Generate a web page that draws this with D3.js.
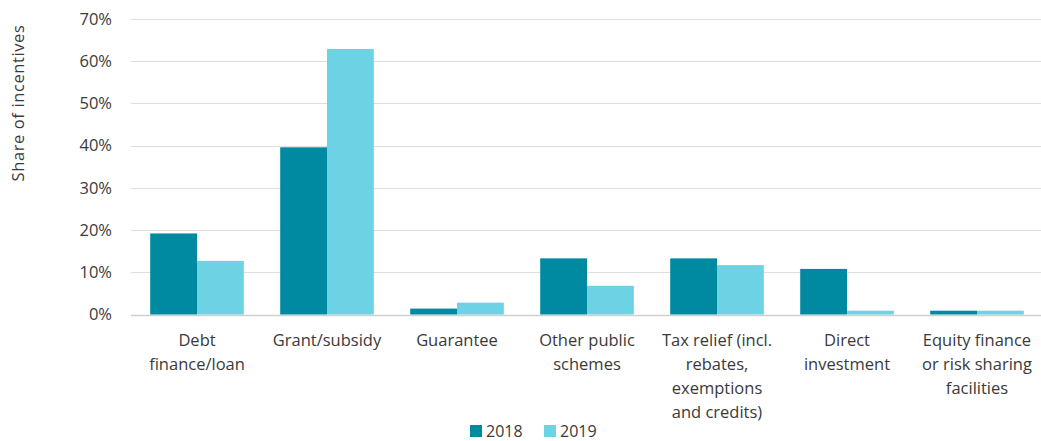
<!DOCTYPE html>
<html>
<head>
<meta charset="utf-8">
<script src="https://cdn.jsdelivr.net/npm/d3@7"></script>
<style>
  html, body { margin: 0; padding: 0; background: #fff; }
  svg { display: block; }
  text { font-family: "Open Sans", "Noto Sans", sans-serif; fill: #3a3a3a; }
</style>
</head>
<body>
<svg id="chart" width="1041" height="441"></svg>
<script>
// Incentive types (x categories), with the line breaks used under the axis
const categories = [
  "Debt finance/loan",
  "Grant/subsidy",
  "Guarantee",
  "Other public schemes",
  "Tax relief (incl. rebates, exemptions and credits)",
  "Direct investment",
  "Equity finance or risk sharing facilities"
];
const categoryLines = [
  ["Debt", "finance/loan"],
  ["Grant/subsidy"],
  ["Guarantee"],
  ["Other public", "schemes"],
  ["Tax relief (incl.", "rebates,", "exemptions", "and credits)"],
  ["Direct", "investment"],
  ["Equity finance", "or risk sharing", "facilities"]
];

// Share of incentives per year
const seriesNames = ["2018", "2019"];
const values2018 = [0.192, 0.396, 0.014, 0.133, 0.133, 0.108, 0.009];
const values2019 = [0.127, 0.629, 0.028, 0.068, 0.117, 0.009, 0.009];

const yTicks = [0, 0.1, 0.2, 0.3, 0.4, 0.5, 0.6, 0.7];
const yTitle = "Share of incentives";

const colors = { "2018": "#008aa2", "2019": "#6dd2e4" };
const fontSize = 16.5;

const svg = d3.select("#chart");

const x = d3.scaleBand()
  .domain(categories)
  .range([132, 1042])
  .paddingInner(0.28)
  .paddingOuter(0.14);

const x1 = d3.scaleBand()
  .domain(seriesNames)
  .range([0, x.bandwidth()]);

const y = d3.scaleLinear()
  .domain([0, 0.7])
  .range([314.5, 19]);

// Horizontal gridlines
svg.append("g")
  .selectAll("line")
  .data(yTicks)
  .join("line")
  .attr("x1", 131)
  .attr("x2", 1041)
  .attr("y1", d => Math.round(y(d)) + 0.5)
  .attr("y2", d => Math.round(y(d)) + 0.5)
  .attr("stroke", d => d === 0 ? "#d0d0d0" : "#dedede")
  .attr("stroke-width", d => d === 0 ? 1.5 : 1);

// Y axis labels
const yAxis = d3.axisLeft(y)
  .tickValues(yTicks)
  .tickFormat(d3.format(".0%"))
  .tickSize(0)
  .tickPadding(0);

svg.append("g")
  .attr("transform", "translate(112,0)")
  .call(yAxis)
  .call(g => g.select(".domain").remove())
  .call(g => g.selectAll("text")
    .attr("font-family", "\"Open Sans\", sans-serif")
    .attr("font-size", fontSize)
    .attr("fill", "#3a3a3a"));

svg.append("text")
  .attr("transform", "translate(24,103) rotate(-90)")
  .attr("text-anchor", "middle")
  .attr("font-size", fontSize)
  .attr("letter-spacing", 0.6)
  .text(yTitle);

// Bars
const rows = categories.map((c, i) => ({ cat: c, vals: [
  { key: "2018", v: values2018[i] },
  { key: "2019", v: values2019[i] }
]}));

svg.append("g")
  .selectAll("g")
  .data(rows)
  .join("g")
  .attr("transform", d => `translate(${x(d.cat)},0)`)
  .selectAll("rect")
  .data(d => d.vals)
  .join("rect")
  .attr("x", d => x1(d.key))
  .attr("width", x1.bandwidth())
  .attr("y", d => y(d.v))
  .attr("height", d => y(0) - y(d.v))
  .attr("fill", d => colors[d.key]);

// Category labels
const labels = svg.append("g")
  .selectAll("text")
  .data(categories)
  .join("text")
  .attr("text-anchor", "middle")
  .attr("font-size", fontSize)
  .attr("x", d => x(d) + x.bandwidth() / 2)
  .attr("y", 346);

labels.selectAll("tspan")
  .data((d, i) => categoryLines[i])
  .join("tspan")
  .attr("x", function () { return this.parentNode.getAttribute("x"); })
  .attr("dy", (d, i) => i === 0 ? 0 : 24)
  .text(d => d);

// Legend
const legend = svg.append("g").attr("transform", "translate(470,430)");
const legendItems = legend.selectAll("g")
  .data(seriesNames)
  .join("g")
  .attr("transform", (d, i) => `translate(${i * 74},0)`);
legendItems.append("rect")
  .attr("x", 0).attr("y", -5)
  .attr("width", 12).attr("height", 12)
  .attr("fill", d => colors[d]);
legendItems.append("text")
  .attr("x", 16).attr("y", 6.5)
  .attr("font-size", 16)
  .text(d => d);
</script>
</body>
</html>
